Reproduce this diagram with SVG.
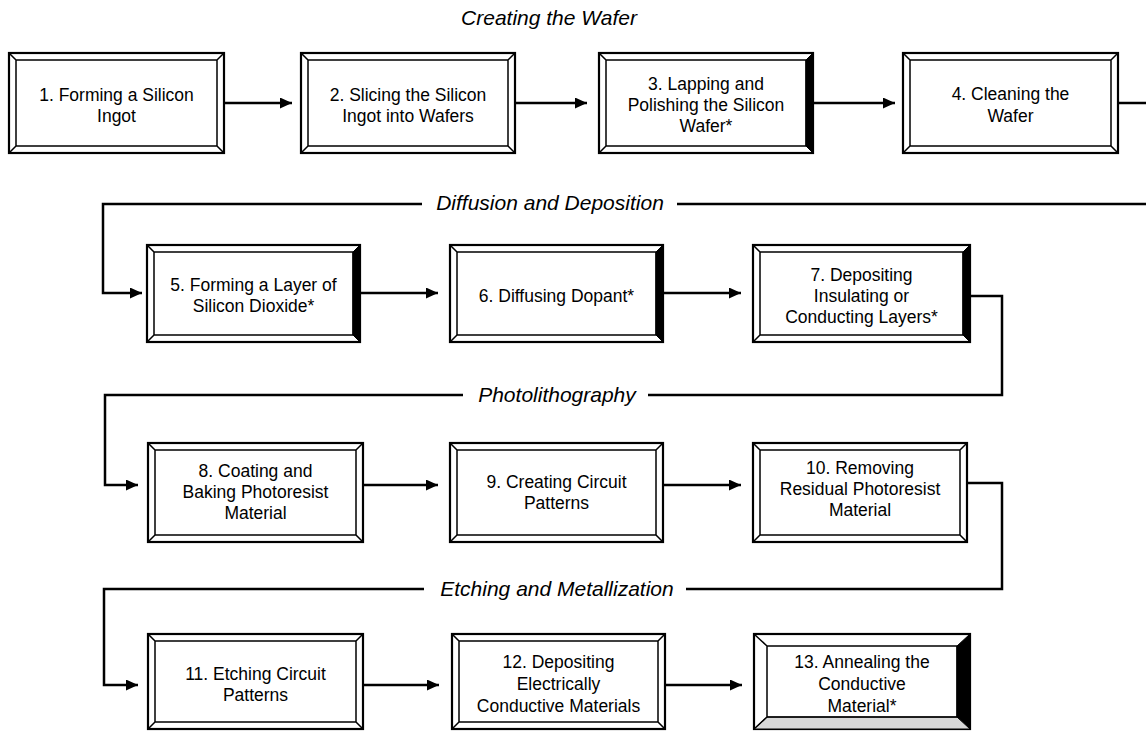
<svg xmlns="http://www.w3.org/2000/svg" width="1146" height="731" viewBox="0 0 1146 731">
<style>
.o{fill:#fff;stroke:#000;stroke-width:2.2}
.b{fill:none;stroke:#000;stroke-width:1.5}
.dk{fill:#000;stroke:#000;stroke-width:1}
.gr{fill:#d8d8d8;stroke:#000;stroke-width:1}
.t{font-family:"Liberation Sans",Arial,sans-serif;font-size:17.5px;fill:#000;text-anchor:middle}
.h{font-family:"Liberation Sans",Arial,sans-serif;font-size:21px;font-style:italic;fill:#000;text-anchor:middle}
.c{fill:none;stroke:#000;stroke-width:2.5}
</style>
<defs>
<marker id="ah" viewBox="0 0 12 11" refX="12" refY="5.5" markerWidth="12" markerHeight="11" markerUnits="userSpaceOnUse" orient="auto">
<path d="M0,0 L12,5.5 L0,11 z" fill="#000"/>
</marker>
</defs>
<rect width="1146" height="731" fill="#fff"/>
<text class="h" x="549" y="25">Creating the Wafer</text>
<text class="h" x="550" y="210">Diffusion and Deposition</text>
<text class="h" x="557" y="402">Photolithography</text>
<text class="h" x="557" y="596">Etching and Metallization</text>
<g id="connectors">
<path class="c" marker-end="url(#ah)" d="M224,103 H292"/>
<path class="c" marker-end="url(#ah)" d="M515,103 H587"/>
<path class="c" marker-end="url(#ah)" d="M813,103 H895"/>
<path class="c" d="M1118,103 H1146"/>
<path class="c" d="M1146,204 H677"/>
<path class="c" marker-end="url(#ah)" d="M422,204 H103 V293 H142"/>
<path class="c" marker-end="url(#ah)" d="M360,293 H438"/>
<path class="c" marker-end="url(#ah)" d="M663,293 H741"/>
<path class="c" d="M970,296 H1002 V395 H648"/>
<path class="c" marker-end="url(#ah)" d="M463,395 H105 V485 H138"/>
<path class="c" marker-end="url(#ah)" d="M363,485 H438"/>
<path class="c" marker-end="url(#ah)" d="M663,485 H741"/>
<path class="c" d="M967,483 H1002 V589 H686"/>
<path class="c" marker-end="url(#ah)" d="M424,589 H104 V685 H138"/>
<path class="c" marker-end="url(#ah)" d="M363,685 H439"/>
<path class="c" marker-end="url(#ah)" d="M665,685 H742"/>
</g>
<g id="n1">
<rect class="o" x="9" y="53" width="215" height="100"/>
<path class="b" d="M16,60 H217 V146 H16 Z M9,53 L16,60 M224,53 L217,60 M9,153 L16,146 M224,153 L217,146"/>
<text class="t" x="116.5" y="101">1. Forming a Silicon</text>
<text class="t" x="116.5" y="122">Ingot</text>
</g>
<g id="n2">
<rect class="o" x="301" y="53" width="214" height="100"/>
<path class="b" d="M308,60 H508 V146 H308 Z M301,53 L308,60 M515,53 L508,60 M301,153 L308,146 M515,153 L508,146"/>
<text class="t" x="408" y="101">2. Slicing the Silicon</text>
<text class="t" x="408" y="122">Ingot into Wafers</text>
</g>
<g id="n3">
<rect class="o" x="599" y="53" width="214" height="100"/>
<path class="dk" d="M813,53 V153 L806,146 V60 Z"/>
<path class="b" d="M606,60 H806 V146 H606 Z M599,53 L606,60 M599,153 L606,146"/>
<text class="t" x="706" y="90">3. Lapping and</text>
<text class="t" x="706" y="111">Polishing the Silicon</text>
<text class="t" x="706" y="132">Wafer*</text>
</g>
<g id="n4">
<rect class="o" x="903" y="53" width="215" height="100"/>
<path class="b" d="M910,60 H1111 V146 H910 Z M903,53 L910,60 M1118,53 L1111,60 M903,153 L910,146 M1118,153 L1111,146"/>
<text class="t" x="1010.5" y="100">4. Cleaning the</text>
<text class="t" x="1010.5" y="122">Wafer</text>
</g>
<g id="n5">
<rect class="o" x="147" y="245" width="213" height="97"/>
<path class="dk" d="M360,245 V342 L353,335 V252 Z"/>
<path class="b" d="M154,252 H353 V335 H154 Z M147,245 L154,252 M147,342 L154,335"/>
<text class="t" x="253.5" y="291">5. Forming a Layer of</text>
<text class="t" x="253.5" y="312">Silicon Dioxide*</text>
</g>
<g id="n6">
<rect class="o" x="450" y="245" width="213" height="97"/>
<path class="dk" d="M663,245 V342 L656,335 V252 Z"/>
<path class="b" d="M457,252 H656 V335 H457 Z M450,245 L457,252 M450,342 L457,335"/>
<text class="t" x="556.5" y="302">6. Diffusing Dopant*</text>
</g>
<g id="n7">
<rect class="o" x="753" y="245" width="217" height="97"/>
<path class="dk" d="M970,245 V342 L963,335 V252 Z"/>
<path class="b" d="M760,252 H963 V335 H760 Z M753,245 L760,252 M753,342 L760,335"/>
<text class="t" x="861.5" y="281">7. Depositing</text>
<text class="t" x="861.5" y="302">Insulating or</text>
<text class="t" x="861.5" y="323">Conducting Layers*</text>
</g>
<g id="n8">
<rect class="o" x="148" y="443" width="215" height="99"/>
<path class="b" d="M155,450 H356 V535 H155 Z M148,443 L155,450 M363,443 L356,450 M148,542 L155,535 M363,542 L356,535"/>
<text class="t" x="255.5" y="477">8. Coating and</text>
<text class="t" x="255.5" y="498">Baking Photoresist</text>
<text class="t" x="255.5" y="519">Material</text>
</g>
<g id="n9">
<rect class="o" x="450" y="443" width="213" height="99"/>
<path class="b" d="M457,450 H656 V535 H457 Z M450,443 L457,450 M663,443 L656,450 M450,542 L457,535 M663,542 L656,535"/>
<text class="t" x="556.5" y="488">9. Creating Circuit</text>
<text class="t" x="556.5" y="509">Patterns</text>
</g>
<g id="n10">
<rect class="o" x="753" y="443" width="214" height="99"/>
<path class="b" d="M760,450 H960 V535 H760 Z M753,443 L760,450 M967,443 L960,450 M753,542 L760,535 M967,542 L960,535"/>
<text class="t" x="860" y="474">10. Removing</text>
<text class="t" x="860" y="495">Residual Photoresist</text>
<text class="t" x="860" y="516">Material</text>
</g>
<g id="n11">
<rect class="o" x="148" y="634" width="215" height="95"/>
<path class="b" d="M155,641 H356 V722 H155 Z M148,634 L155,641 M363,634 L356,641 M148,729 L155,722 M363,729 L356,722"/>
<text class="t" x="255.5" y="680">11. Etching Circuit</text>
<text class="t" x="255.5" y="701">Patterns</text>
</g>
<g id="n12">
<rect class="o" x="452" y="634" width="213" height="95"/>
<path class="b" d="M459,641 H658 V722 H459 Z M452,634 L459,641 M665,634 L658,641 M452,729 L459,722 M665,729 L658,722"/>
<text class="t" x="558.5" y="668">12. Depositing</text>
<text class="t" x="558.5" y="690">Electrically</text>
<text class="t" x="558.5" y="712">Conductive Materials</text>
</g>
<g id="n13">
<rect class="o" x="754" y="634" width="216" height="95"/>
<path class="dk" d="M970,634 V729 L957,717 V646 Z"/>
<path class="gr" d="M754,729 H970 L957,717 H767 Z"/>
<path class="b" d="M767,646 H957 V717 H767 Z M754,634 L767,646 M754,729 L767,717"/>
<text class="t" x="862" y="668">13. Annealing the</text>
<text class="t" x="862" y="690">Conductive</text>
<text class="t" x="862" y="712">Material*</text>
</g>
</svg>
